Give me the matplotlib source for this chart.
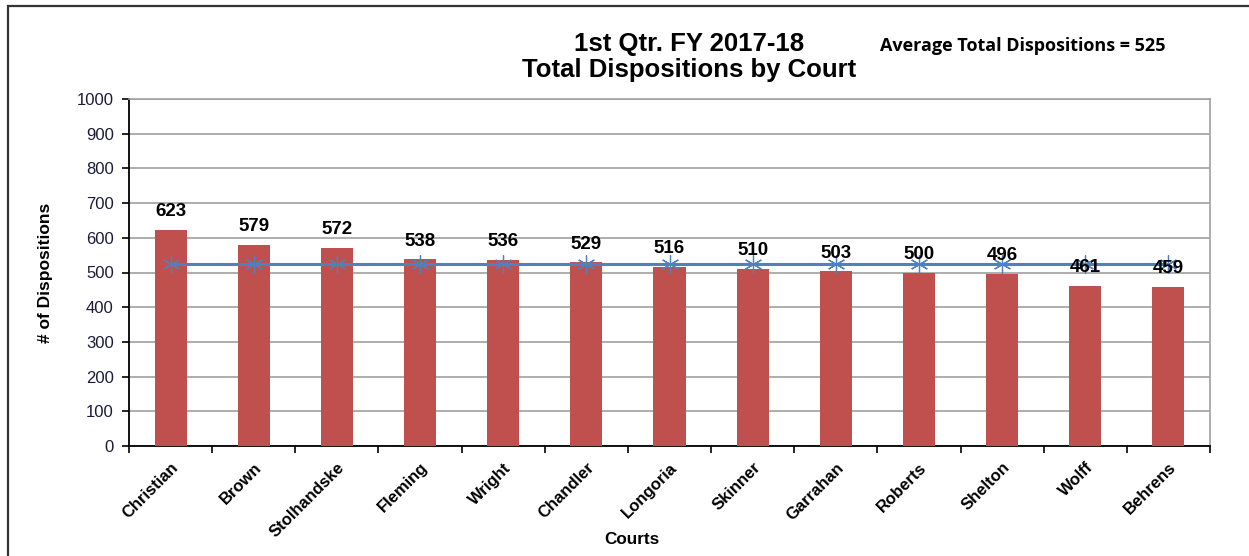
import numpy as np
import matplotlib.pyplot as plt
from matplotlib.patches import Rectangle

courts = ["Christian", "Brown", "Stolhandske", "Fleming", "Wright", "Chandler",
          "Longoria", "Skinner", "Garrahan", "Roberts", "Shelton", "Wolff", "Behrens"]
dispositions = [623, 579, 572, 538, 536, 529, 516, 510, 503, 500, 496, 461, 459]
average = 525

plt.rcParams["font.family"] = ["Liberation Sans", "DejaVu Sans"]

fig = plt.figure(figsize=(12.49, 5.56), dpi=100)
ax = fig.add_axes([129 / 1249, 1 - 446 / 556, 1081 / 1249, 347 / 556])

x = np.arange(len(courts))
ax.bar(x, dispositions, width=0.385, color="#C0504D", zorder=3)
ax.plot(x, [average] * len(courts), color="#4F81BD", lw=2.2, zorder=4,
        marker=(6, 2, 0), markersize=13, markeredgecolor="#4F81BD", markeredgewidth=0.9)

for xi, v in zip(x, dispositions):
    ax.text(xi, v + 28, str(v), ha="center", va="bottom", fontsize=13.5,
            fontweight="bold", zorder=5)

ax.set_xlim(-0.5, len(courts) - 0.5)
ax.set_ylim(0, 1000)
ax.set_yticks(np.arange(0, 1001, 100))
ax.yaxis.grid(True, color="#A0A0A0", lw=1.2, zorder=0)
ax.tick_params(axis="y", labelsize=12, colors="black", labelcolor="#1a1a3a",
               length=5, width=1.2, direction="out", pad=6)

ax.set_xticks(x)
ax.set_xticklabels(courts, rotation=45, ha="right", rotation_mode="anchor",
                   fontsize=12, fontweight="bold")
ax.set_xticks(np.arange(-0.5, len(courts)), minor=True)
ax.tick_params(axis="x", which="major", length=0, pad=10)
ax.tick_params(axis="x", which="minor", length=5, width=1.2, direction="out")

ax.spines["left"].set_color("black")
ax.spines["bottom"].set_color("black")
ax.spines["left"].set_linewidth(1.3)
ax.spines["bottom"].set_linewidth(1.3)
ax.spines["top"].set_color("#A0A0A0")
ax.spines["right"].set_color("#A0A0A0")
ax.spines["top"].set_linewidth(1.2)
ax.spines["right"].set_linewidth(1.2)

fig.text(46 / 1249, 1 - 273 / 556, "# of Dispositions", rotation=90,
         ha="center", va="center", fontsize=12.5, fontweight="bold")
fig.text(632 / 1249, 1 - 539 / 556, "Courts", ha="center", va="center",
         fontsize=12.3, fontweight="bold")

fig.text(689 / 1249, 1 - 57 / 556, "1st Qtr. FY 2017-18\nTotal Dispositions by Court",
         ha="center", va="center", fontsize=18.5, fontweight="bold", linespacing=1.15)
fig.text(880 / 1249, 1 - 46 / 556, "Average Total Dispositions = 525",
         ha="left", va="center", fontsize=13, fontweight="bold",
         family=["Open Sans", "DejaVu Sans"])

fig.patches.append(Rectangle((8 / 1249, -0.1), 1.2, 1 - 6 / 556 + 0.1,
                             transform=fig.transFigure, fill=False,
                             edgecolor="#333333", lw=1.6))

fig.savefig("out.png", dpi=100)
